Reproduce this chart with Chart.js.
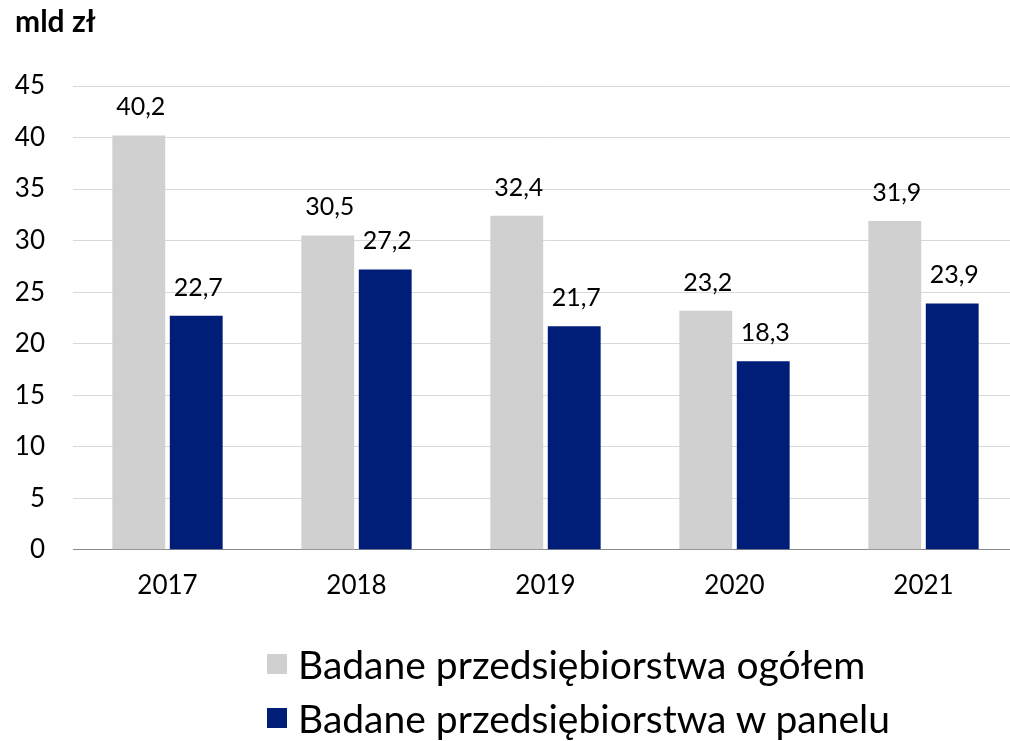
<!DOCTYPE html>
<html>
<head>
<meta charset="utf-8">
<script src="https://cdn.jsdelivr.net/npm/chart.js@4/dist/chart.umd.min.js"></script>
<style>
  html, body { margin: 0; padding: 0; background: #fff; }
  #wrap { position: relative; width: 1010px; height: 741px; overflow: hidden; }
  #c { position: absolute; left: 0; top: 0; }
  .leg { position: absolute; left: 267px; font-family: Lato, "Noto Sans", sans-serif; font-size: 39px; color: #000; white-space: nowrap; line-height: 1; }
  .leg .box { position: absolute; left: 0; width: 20px; height: 20px; }
  .leg .txt { position: absolute; left: 31px; top: 0; }
</style>
</head>
<body>
<div id="wrap">
  <canvas id="c" width="1018" height="741"></canvas>
  <div id="legend"></div>
</div>
<script>
const categories = ['2017', '2018', '2019', '2020', '2021'];
const seriesNames = ['Badane przedsiębiorstwa ogółem', 'Badane przedsiębiorstwa w panelu'];
const valuesOgolem = [40.2, 30.5, 32.4, 23.2, 31.9];
const valuesPanel = [22.7, 27.2, 21.7, 18.3, 23.9];
const yTicks = [0, 5, 10, 15, 20, 25, 30, 35, 40, 45];
const unitLabel = 'mld zł';
const colors = ['#d0d0d0', '#001e78'];

const FONT = 'Lato, "Noto Sans", sans-serif';

const labelPlugin = {
  id: 'barLabels',
  afterDatasetsDraw(chart) {
    const ctx = chart.ctx;
    ctx.save();
    ctx.font = '25px ' + FONT;
    ctx.fillStyle = '#000';
    ctx.textAlign = 'center';
    ctx.textBaseline = 'alphabetic';
    chart.data.datasets.forEach((ds, i) => {
      const meta = chart.getDatasetMeta(i);
      meta.data.forEach((bar, j) => {
        const txt = ds.data[j].toFixed(1).replace('.', ',');
        ctx.fillText(txt, bar.x + 2, bar.y - 20);
      });
    });
    ctx.restore();
  }
};

const chart = new Chart(document.getElementById('c'), {
  type: 'bar',
  data: {
    labels: categories,
    datasets: [
      { label: seriesNames[0], data: valuesOgolem, backgroundColor: colors[0], categoryPercentage: 0.608, barPercentage: 0.92 },
      { label: seriesNames[1], data: valuesPanel, backgroundColor: colors[1], categoryPercentage: 0.608, barPercentage: 0.92 }
    ]
  },
  options: {
    responsive: false,
    animation: false,
    devicePixelRatio: 1,
    layout: { padding: { left: 15, right: 0, top: 0, bottom: 120 } },
    plugins: {
      legend: { display: false },
      tooltip: { enabled: false },
      title: {
        display: true,
        text: unitLabel,
        align: 'start',
        color: '#000',
        font: { family: FONT, size: 30, weight: 'bold' },
        padding: { top: 4, bottom: 46 }
      }
    },
    scales: {
      x: {
        grid: { display: false, drawTicks: false },
        border: { display: true, color: '#8a8a8a', width: 1 },
        ticks: { color: '#000', font: { family: FONT, size: 26 }, padding: 20 }
      },
      y: {
        min: 0, max: 45,
        afterFit: s => { s.width = 58; },
        afterBuildTicks: s => { s.ticks = yTicks.map(v => ({ value: v })); },
        grid: { color: '#d9d9d9', lineWidth: 1, drawTicks: false },
        border: { display: false },
        ticks: { color: '#000', font: { family: FONT, size: 26 }, padding: 28, stepSize: 5 }
      }
    }
  },
  plugins: [labelPlugin]
});

// HTML legend built from datasets
const legTops = [645, 699];
const legend = document.getElementById('legend');
chart.data.datasets.forEach((ds, i) => {
  const row = document.createElement('div');
  row.className = 'leg';
  row.style.top = legTops[i] + 'px';
  const box = document.createElement('div');
  box.className = 'box';
  box.style.background = ds.backgroundColor;
  box.style.top = '9px';
  const txt = document.createElement('span');
  txt.className = 'txt';
  txt.textContent = ds.label;
  row.appendChild(box);
  row.appendChild(txt);
  legend.appendChild(row);
});
</script>
</body>
</html>
